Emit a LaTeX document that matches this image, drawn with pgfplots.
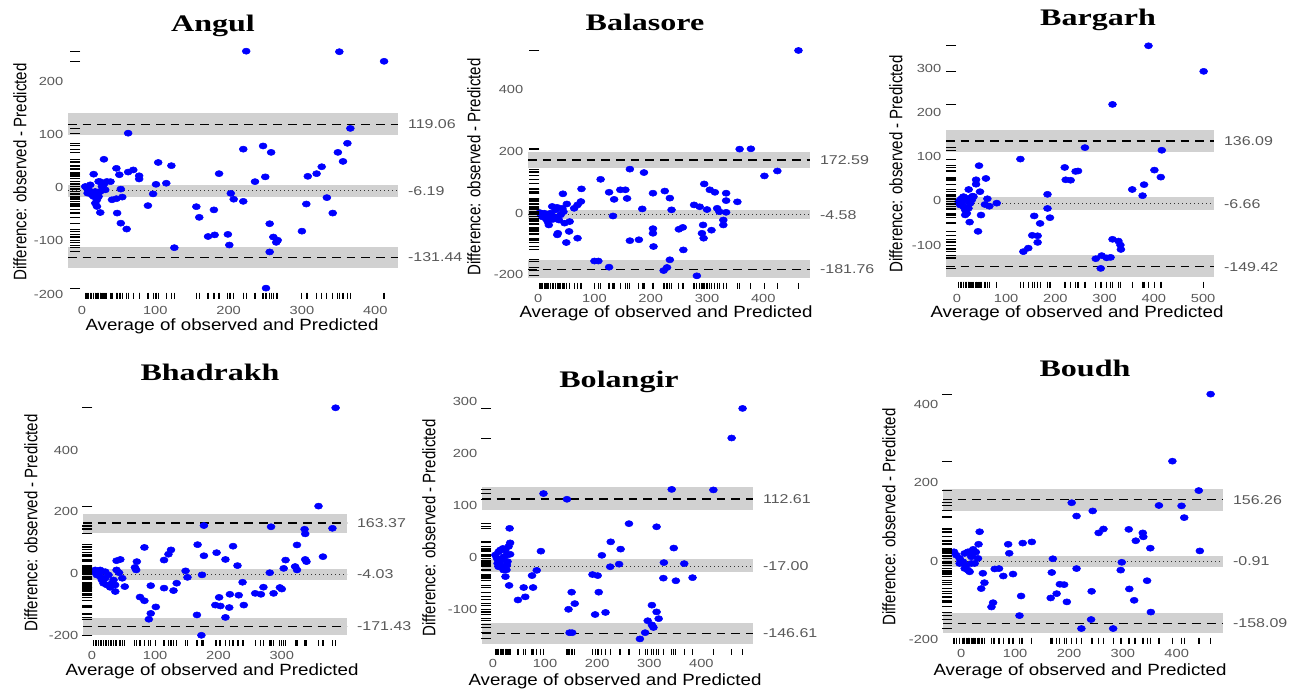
\documentclass[border=0pt]{standalone}
\usepackage{graphicx}
\usepackage{fontspec}
\setmainfont{Liberation Sans}
\newfontfamily\tickfam[FakeStretch=1.25]{Liberation Sans}
\newfontfamily\labfam[FakeStretch=1.15]{Liberation Sans}
\newfontfamily\titlefam[FakeStretch=1.35]{Liberation Serif}
\usepackage{pgfplots}
\usepackage{pgfplotstable}
\pgfplotsset{compat=1.18}
\newcommand\tickfont{\tickfam\fontsize{8.8}{10}\selectfont}
\newcommand\rfont{\tickfam\fontsize{9.6}{11}\selectfont}
\newcommand\labfont{\labfam\fontsize{12.2}{14}\selectfont}
\newcommand\ylabfont{\fontsize{11.3}{13}\selectfont}
\newcommand\titlefont{\titlefam\bfseries\fontsize{17.8}{20}\selectfont}
\newcommand\ylab{\scalebox{1}[1.2]{Difference: observed - Predicted}}
\definecolor{bandgray}{gray}{0.82}
\definecolor{tickgray}{gray}{0.35}

\pgfplotstableread{
x y
224 256
351 255
412 237
366 111
63 102
362 83
220 72
247 78
258 66
349 66
356 49
327 39
320 26
308 21
250 20
236 11
187 26
122 41
104 47
115 8
101 6
97 -12
90 -34
70 33
63 29
78 22
78 16
47 36
51 24
30 53
16 25
39 11
53 -3
47 -21
41 -23
55 -18
48 -48
53 -67
61 -78
25 -47
6.8 -1.3
11.4 -7.5
15.9 -16.9
20.5 -23.1
18.2 -29.4
25 -7.5
29.5 5
22.7 11.3
27.3 1.9
31.8 -4.4
9.1 -4.4
13.6 -13.8
20.5 -35.6
34 11.3
4.5 1.9
7.7 -10.6
22.7 -16.9
18 -7.5
25 11
11.4 5
203 -11
207 -22
220 -26
156 -36
160 -56
180 -42
172 -92
181 -89
199 -88
201 -108
126 -113
256 -68
261 -93
265 -103
267 -99
256 -121
251 -189
306 -31
334 -19
342 -48
300 -82
}\angul

\pgfplotstableread{
x y
462.5 528
358 208
378 209
425 137
402 121
163 143
188 132
111 110
77 79
126 68
146 76
155 76
135 45
158 48
204 65
225 72
234 49
185 14
237 11
133 -9
44 63
295 95
305 76
314 68
334 65
334 41
354 37
277 27
287 21
300 12
318 16
322 5
334 3
329 -22
329 -38
293 -38
308 -55
291 -65
294 -81
250 -52
257 -46
204 -50
204 -65
205 -108
258 -119
234 -151
229 -176
223 -186
163 -89
179 -86
100 -155
107 -155
126 -175
282 -203
70 -81
50 -95
55 -59
35 -65
34 -70
56 -27
47 -32
37 -22
17 -27
19 -38
28 -11
31 11
43 16
51 30
64 16
70 27
76 38
5 -5
11 0
17 -11
22 0
25 22
34 19
8 -12
14 -18
3 2
26 -20
40 -5
45 5
}\balasore

\pgfplotstableread{
x y
389 352
501 294
316 219
260 121
416 115
129 95
219 76
221 48
231 47
241 67
246 68
401 70
414 54
380 37
356 26
377 12
184 15
184 -17
189 -38
157 -34
169 -51
153 -78
164 -79
164 -94
145 -107
135 -115
316 -87
328 -91
332 -100
333 -110
282 -131
294 -124
304 -129
312 -128
292 -153
45 80
59 51
39 48
39 38
24 26
47 21
32 11
62 5
81 -5
57 -8
66 -12
49 -32
43 -69
26 -48
6.8 2.3
10.1 -5.3
13.5 -12.8
16.9 -20.4
20.3 -28
13.5 9.8
20.3 2.3
27 -5.3
23.6 -16.6
6.8 -9.1
16.9 -31.7
30.4 2.3
3.4 -1.5
10.1 6
23.6 6
33.8 9.8
}\bargarh

\pgfplotstableread{
x y
385 537
358 218
380 146
336 143
337 128
283 151
177 155
324 92
337 45
339 38
306 43
321 22
324 11
303 16
365 54
281 2
287 -65
297 -46
300 -51
271 -45
258 -65
267 -68
223 88
211 45
197 67
177 57
167 93
174 -5
230 25
238 -29
232 -71
240 -103
218 -68
217 -111
201 -78
195 -103
203 -106
211 -143
166 -135
173 -201
148 8
151 -13
134 -32
129 -56
125 76
121 62
114 43
114 -48
101 -109
93 -130
90 -149
93 -40
83 84
76 -77
83 -89
71 38
70 11
68 19
52 -43
48 -16
39 41
45 45
39 11
43 2
37 -59
2.6 5.4
7.9 -5.4
10.5 0
13.2 -10.8
15.8 -21.6
18.4 -32.4
21.1 -16.2
23.7 -37.8
28.9 -45.4
31.6 -32.4
26.3 -5.4
13.2 10.8
21.1 5.4
34.2 -21.6
36.8 -37.8
5.3 10.8
}\bhadrakh

\pgfplotstableread{
x y
479 287
458 230
343 131
423 130
97 123
142 112
261 65
314 59
226 30
245 16
209 4
347 18
328 -10
367 -12
242 -13
225 -18
327 -40
351 -45
383 -39
191 -33
201 -35
203 -67
151 -67
157 -89
145 -100
196 -110
216 -106
305 -92
314 -105
318 -118
297 -122
305 -130
308 -135
292 -145
282 -157
147 -145
152 -145
92 12
84 -25
75 -35
77 -58
59 -58
62 -76
48 -82
31 -54
32 56
33 28
30 21
33 6
28 -8
26 -24
24 -37
17 -18
4.5 4.5
7.7 -1.9
10.8 10.9
14 14.1
17.2 -5.1
20.4 1.3
8.9 -11.6
14 -14.8
23.6 14.1
26.8 4.5
19.1 17.3
10.8 -18
20.4 -24.4
26.8 -14.8
}\bolangir

\pgfplotstableread{
x y
463 426
392 255
441 180
367 142
409 141
414 111
443 26
351 33
205 149
214 115
244 128
255 72
264 82
311 81
324 52
337 72
338 62
298 -3
296 -23
312 -71
321 -100
345 -50
352 -130
242 -77
241 -149
223 -172
282 -172
214 -19
170 6
168 -29
177 -83
183 -59
191 -60
196 -104
166 -94
131 49
114 46
111 -89
108 -139
96 -33
89 20
87 43
78 -38
70 -19
62 -20
59 -106
56 -117
43 -55
37 -70
34 75
32 43
40 -31
31 7
27 23
22 30
-13.6 23.8
-9.3 15.3
-3.1 6.8
3.1 -1.7
9.3 -10.2
12.4 -23
15.5 -27.2
6.2 19.6
12.4 23.8
18.6 11.1
24.8 -6
-3.1 -6
6.2 -18.7
18.6 -6
21.7 19.6
}\boudh

\pgfplotsset{
  ba/.style={
    scale only axis, anchor=south west, clip=false,
    axis line style={draw=none}, tick style={draw=none}, major tick length=0pt,
    tick label style={font=\tickfont, text=tickgray},
  },
  pts/.style={only marks, mark=*, color=blue, mark size=2.3pt, mark options={xscale=1.3}},
  rugx/.style={only marks, mark=|, mark size=2.3pt, mark options={line width=0.85pt, black}},
  rugy/.style={only marks, mark=-, mark size=3.8pt, mark options={line width=0.75pt, black}},
  band/.style={fill=bandgray, draw=none},
  lim/.style={black, line width=0.85pt, dash pattern=on 6.5pt off 4.5pt},
  mn/.style={black!80, line width=0.75pt, dash pattern=on 0.8pt off 2.2pt},
}
\tikzset{rlab/.style={anchor=west, font=\rfont, text=tickgray, xshift=4pt}}

\begin{document}
\begin{tikzpicture}
\useasboundingbox (0,0) rectangle (968.25pt,516.75pt);

% ---------- Angul ----------
\begin{axis}[ba, at={(51pt,290.25pt)}, width=247.5pt, height=196.5pt,
  xmin=-19, xmax=431, ymin=-215, ymax=277,
  xtick={0,100,200,300,400}, xticklabels={0,100,200,300,400},
  ytick={-200,-100,0,100,200}, yticklabels={-200,-100,0,100,200}]
\addplot[band] coordinates {(-19,99) (431,99) (431,139) (-19,139)} -- cycle;
\addplot[band] coordinates {(-19,-17) (431,-17) (431,5) (-19,5)} -- cycle;
\addplot[band] coordinates {(-19,-151) (431,-151) (431,-112) (-19,-112)} -- cycle;
\addplot[lim] coordinates {(-19,119.06) (431,119.06)};
\addplot[mn] coordinates {(-19,-6.19) (431,-6.19)};
\addplot[lim] coordinates {(-19,-131.44) (431,-131.44)};
\addplot[pts] table[x=x,y=y] {\angul};
\addplot[rugx] table[x=x, y expr=-203] {\angul};
\addplot[rugy] table[x expr=-9.5, y=y] {\angul};
\node[rlab] at (axis cs:431,119.06) {119.06};
\node[rlab] at (axis cs:431,-6.19) {-6.19};
\node[rlab] at (axis cs:431,-131.44) {-131.44};
\end{axis}

% ---------- Balasore ----------
\begin{axis}[ba, at={(396pt,299.25pt)}, width=211.5pt, height=187.5pt,
  xmin=-18, xmax=483, ymin=-249, ymax=562,
  xtick={0,100,200,300,400}, xticklabels={0,100,200,300,400},
  ytick={-200,0,200,400}, yticklabels={-200,0,200,400}]
\addplot[band] coordinates {(-18,146) (483,146) (483,200) (-18,200)} -- cycle;
\addplot[band] coordinates {(-18,-19) (483,-19) (483,11) (-18,11)} -- cycle;
\addplot[band] coordinates {(-18,-211) (483,-211) (483,-151) (-18,-151)} -- cycle;
\addplot[lim] coordinates {(-18,172.59) (483,172.59)};
\addplot[mn] coordinates {(-18,-4.58) (483,-4.58)};
\addplot[lim] coordinates {(-18,-181.76) (483,-181.76)};
\addplot[pts] table[x=x,y=y] {\balasore};
\addplot[rugx] table[x=x, y expr=-236] {\balasore};
\addplot[rugy] table[x expr=-7, y=y] {\balasore};
\node[rlab] at (axis cs:483,172.59) {172.59};
\node[rlab] at (axis cs:483,-4.58) {-4.58};
\node[rlab] at (axis cs:483,-181.76) {-181.76};
\end{axis}

% ---------- Bargarh ----------
\begin{axis}[ba, at={(709.5pt,299.25pt)}, width=201pt, height=192.75pt,
  xmin=-22, xmax=522, ymin=-202, ymax=381,
  xtick={0,100,200,300,400,500}, xticklabels={0,100,200,300,400,500},
  ytick={-100,0,100,200,300}, yticklabels={-100,0,100,200,300}]
\addplot[band] coordinates {(-22,112) (522,112) (522,161) (-22,161)} -- cycle;
\addplot[band] coordinates {(-22,-20) (522,-20) (522,10) (-22,10)} -- cycle;
\addplot[band] coordinates {(-22,-173) (522,-173) (522,-122) (-22,-122)} -- cycle;
\addplot[lim] coordinates {(-22,136.09) (522,136.09)};
\addplot[mn] coordinates {(-22,-6.66) (522,-6.66)};
\addplot[lim] coordinates {(-22,-149.42) (522,-149.42)};
\addplot[pts] table[x=x,y=y] {\bargarh};
\addplot[rugx] table[x=x, y expr=-190] {\bargarh};
\addplot[rugy] table[x expr=-12, y=y] {\bargarh};
\node[rlab] at (axis cs:522,136.09) {136.09};
\node[rlab] at (axis cs:522,-6.66) {-6.66};
\node[rlab] at (axis cs:522,-149.42) {-149.42};
\end{axis}

% ---------- Bhadrakh ----------
\begin{axis}[ba, at={(62.25pt,31.5pt)}, width=198pt, height=187.5pt,
  xmin=-14, xmax=403, ymin=-239, ymax=572,
  xtick={0,100,200,300}, xticklabels={0,100,200,300},
  ytick={-200,0,200,400}, yticklabels={-200,0,200,400}]
\addplot[band] coordinates {(-14,132) (403,132) (403,192) (-14,192)} -- cycle;
\addplot[band] coordinates {(-14,-22) (403,-22) (403,13) (-14,13)} -- cycle;
\addplot[band] coordinates {(-14,-200) (403,-200) (403,-146) (-14,-146)} -- cycle;
\addplot[lim] coordinates {(-14,163.37) (403,163.37)};
\addplot[mn] coordinates {(-14,-4.03) (403,-4.03)};
\addplot[lim] coordinates {(-14,-171.43) (403,-171.43)};
\addplot[pts] table[x=x,y=y] {\bhadrakh};
\addplot[rugx] table[x=x, y expr=-227] {\bhadrakh};
\addplot[rugy] table[x expr=-7, y=y] {\bhadrakh};
\node[rlab] at (axis cs:403,163.37) {163.37};
\node[rlab] at (axis cs:403,-4.03) {-4.03};
\node[rlab] at (axis cs:403,-171.43) {-171.43};
\end{axis}

% ---------- Bolangir ----------
\begin{axis}[ba, at={(361.5pt,25.5pt)}, width=203.25pt, height=193.5pt,
  xmin=-21, xmax=499, ymin=-188, ymax=309,
  xtick={0,100,200,300,400,500}, xticklabels={0,100,200,300,400,500},
  ytick={-100,0,100,200,300}, yticklabels={-100,0,100,200,300}]
\addplot[band] coordinates {(-21,92) (499,92) (499,135) (-21,135)} -- cycle;
\addplot[band] coordinates {(-21,-28) (499,-28) (499,-4) (-21,-4)} -- cycle;
\addplot[band] coordinates {(-21,-167) (499,-167) (499,-127) (-21,-127)} -- cycle;
\addplot[lim] coordinates {(-21,112.61) (499,112.61)};
\addplot[mn] coordinates {(-21,-17) (499,-17)};
\addplot[lim] coordinates {(-21,-146.61) (499,-146.61)};
\addplot[pts] table[x=x,y=y] {\bolangir};
\addplot[rugx] table[x=x, y expr=-182] {\bolangir};
\addplot[rugy] table[x expr=-13, y=y] {\bolangir};
\node[rlab] at (axis cs:499,112.61) {112.61};
\node[rlab] at (axis cs:499,-17) {-17.00};
\node[rlab] at (axis cs:499,-146.61) {-146.61};
\end{axis}

% ---------- Boudh ----------
\begin{axis}[ba, at={(707.25pt,33pt)}, width=210pt, height=197.25pt,
  xmin=-34, xmax=486, ymin=-214, ymax=457,
  xtick={0,100,200,300,400}, xticklabels={0,100,200,300,400},
  ytick={-200,0,200,400}, yticklabels={-200,0,200,400}]
\addplot[band] coordinates {(-34,129) (486,129) (486,183) (-34,183)} -- cycle;
\addplot[band] coordinates {(-34,-16) (486,-16) (486,13) (-34,13)} -- cycle;
\addplot[band] coordinates {(-34,-183) (486,-183) (486,-132) (-34,-132)} -- cycle;
\addplot[lim] coordinates {(-34,156.26) (486,156.26)};
\addplot[mn] coordinates {(-34,-0.91) (486,-0.91)};
\addplot[lim] coordinates {(-34,-158.09) (486,-158.09)};
\addplot[pts] table[x=x,y=y] {\boudh};
\addplot[rugx] table[x=x, y expr=-203] {\boudh};
\addplot[rugy] table[x expr=-27, y=y] {\boudh};
\node[rlab] at (axis cs:486,156.26) {156.26};
\node[rlab] at (axis cs:486,-0.91) {-0.91};
\node[rlab] at (axis cs:486,-158.09) {-158.09};
\end{axis}

% ---------- titles ----------
\node[anchor=base, font=\titlefont] at (159.75pt,492.75pt) {Angul};
\node[anchor=base, font=\titlefont] at (483.75pt,493.5pt) {Balasore};
\node[anchor=base, font=\titlefont] at (823.5pt,497.25pt) {Bargarh};
\node[anchor=base, font=\titlefont] at (157.5pt,231pt) {Bhadrakh};
\node[anchor=base, font=\titlefont] at (464.25pt,225.75pt) {Bolangir};
\node[anchor=base, font=\titlefont] at (813.75pt,234pt) {Boudh};

% ---------- x labels ----------
\node[anchor=base, font=\labfont] at (174pt,268.5pt) {Average of observed and Predicted};
\node[anchor=base, font=\labfont] at (499.5pt,278.25pt) {Average of observed and Predicted};
\node[anchor=base, font=\labfont] at (807.75pt,278.25pt) {Average of observed and Predicted};
\node[anchor=base, font=\labfont] at (159pt,10.5pt) {Average of observed and Predicted};
\node[anchor=base, font=\labfont] at (461.25pt,3pt) {Average of observed and Predicted};
\node[anchor=base, font=\labfont] at (810pt,10.5pt) {Average of observed and Predicted};

% ---------- y labels ----------
\node[rotate=90, font=\ylabfont] at (15pt,387.75pt) {\ylab};
\node[rotate=90, font=\ylabfont] at (355.5pt,391.5pt) {\ylab};
\node[rotate=90, font=\ylabfont] at (672pt,393.75pt) {\ylab};
\node[rotate=90, font=\ylabfont] at (23.25pt,124.5pt) {\ylab};
\node[rotate=90, font=\ylabfont] at (321.75pt,120.75pt) {\ylab};
\node[rotate=90, font=\ylabfont] at (666.75pt,129pt) {\ylab};
\end{tikzpicture}
\end{document}
